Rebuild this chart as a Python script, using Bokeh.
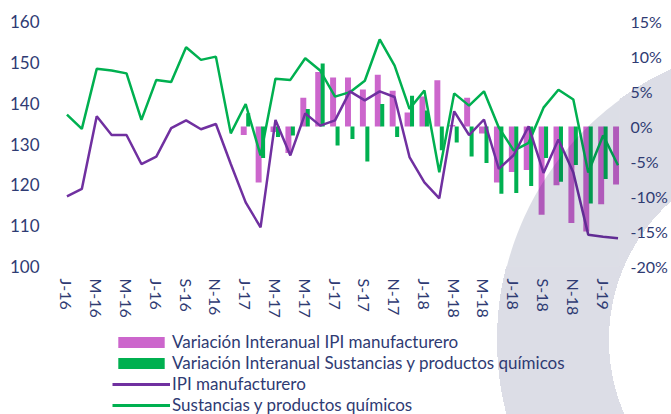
import numpy as np
from bokeh.plotting import figure
from bokeh.layouts import column
from bokeh.models import (Range1d, LinearAxis, FixedTicker, Legend, LegendItem,
                          PolyAnnotation, ColumnDataSource)
from bokeh.embed import file_html
from bokeh.resources import INLINE

# ---------------- data (Jan-2016 .. Feb-2019, monthly) ----------------
tick_labels = ["J-16", "M-16", "M-16", "J-16", "S-16", "N-16",
               "J-17", "M-17", "M-17", "J-17", "S-17", "N-17",
               "J-18", "M-18", "M-18", "J-18", "S-18", "N-18", "J-19"]

ipi_manuf = [117.2, 119.0, 136.8, 132.2, 132.2, 125.1, 126.9, 133.9, 135.8, 133.6,
             134.9, 125.1, 115.7, 109.6, 135.9, 127.2, 137.5, 134.5, 135.8, 142.9,
             140.7, 142.9, 141.5, 126.8, 120.6, 116.7, 138.0, 132.2, 136.0, 123.9,
             127.3, 134.3, 122.9, 131.1, 123.0, 107.8, 107.3, 106.9]

sust_quim = [137.2, 133.7, 148.4, 148.0, 147.3, 135.9, 145.7, 145.2, 153.7, 150.6,
             151.4, 132.6, 139.8, 127.2, 146.0, 145.7, 151.0, 148.0, 141.6, 142.7,
             145.5, 155.6, 149.2, 138.6, 143.1, 123.1, 142.4, 139.4, 142.9, 134.0,
             128.4, 130.3, 138.9, 143.3, 140.9, 123.0, 132.1, 124.8]

var_ipi = [None] * 12 + [-1.2, -8.0, -0.8, -3.8, 4.1, 7.8, 7.0, 7.0, 5.3, 7.4,
                         5.1, 2.0, 4.3, 6.6, 0.2, 4.1, -1.0, -8.0, -6.5, -6.2,
                         -12.6, -8.4, -13.8, -15.0, -11.1, -8.3]

var_quim = [None] * 12 + [1.9, -4.5, -1.5, -1.3, 2.5, 9.0, -2.7, -1.8, -5.0, 3.2,
                          -1.5, 4.4, 2.3, -3.4, -2.3, -4.3, -5.2, -9.6, -9.5, -8.5,
                          -4.5, -7.9, -5.5, -11.0, -7.5, None]

legend_labels = ["Variación Interanual IPI manufacturero",
                 "Variación Interanual Sustancias y productos químicos",
                 "IPI manufacturero",
                 "Sustancias y productos químicos"]

left_ticks = [100, 110, 120, 130, 140, 150, 160]
right_ticks = [-20, -15, -10, -5, 0, 5, 10, 15]

# ---------------- styling ----------------
NAVY = "#2F3B73"
PINK = "#CC66CC"
GREEN = "#00B050"
PURPLE = "#7030A0"
FONT = "Lato"

n = len(ipi_manuf)
x = np.arange(n, dtype=float)
nanify = lambda a: np.array([np.nan if v is None else v for v in a], dtype=float)

src = ColumnDataSource(dict(
    x=x, x_pink=x - 0.13, x_green=x + 0.17,
    ipi=np.array(ipi_manuf), quim=np.array(sust_quim),
    vipi=nanify(var_ipi), vquim=nanify(var_quim),
))

W = 671
H_MAIN, H_LEG = 320, 94
ML, MR, MT = 59, 52, 21
FRAME_BOTTOM = 266
MB = H_MAIN - FRAME_BOTTOM

p = figure(width=W, height=H_MAIN, x_range=Range1d(-0.5, 37.1), y_range=Range1d(100, 160),
           output_backend="svg", toolbar_location=None,
           min_border_left=ML, min_border_right=MR, min_border_top=MT, min_border_bottom=MB)
p.extra_y_ranges = {"pct": Range1d(-20, 15)}
p.xgrid.visible = False
p.ygrid.visible = False
p.outline_line_color = None
p.background_fill_color = "white"
p.border_fill_color = None

def style_axis(ax, standoff, size="16px"):
    ax.axis_line_color = None
    ax.major_tick_line_color = None
    ax.minor_tick_line_color = None
    ax.major_tick_out = 0
    ax.major_tick_in = 0
    ax.minor_tick_out = 0
    ax.minor_tick_in = 0
    ax.major_label_text_font = FONT
    ax.major_label_text_font_size = size
    ax.major_label_text_color = NAVY
    ax.major_label_standoff = standoff

# left axis
p.yaxis[0].ticker = FixedTicker(ticks=left_ticks)
style_axis(p.yaxis[0], 20, "17px")

# right axis
rax = LinearAxis(y_range_name="pct", ticker=FixedTicker(ticks=right_ticks),
                 major_label_overrides={t: f"{t}%" for t in right_ticks})
style_axis(rax, 11)
p.add_layout(rax, "right")

# bottom axis
xt = list(range(0, 37, 2))
p.xaxis[0].ticker = FixedTicker(ticks=xt)
p.xaxis[0].major_label_overrides = {t: lab for t, lab in zip(xt, tick_labels)}
p.xaxis[0].major_label_orientation = "vertical"
style_axis(p.xaxis[0], 12)

# bars
p.vbar(x="x_pink", top="vipi", bottom=0, width=0.40, source=src,
       y_range_name="pct", fill_color=PINK, line_color=None)
p.vbar(x="x_green", top="vquim", bottom=0, width=0.27, source=src,
       y_range_name="pct", fill_color=GREEN, line_color=None)
# lines
p.line("x", "quim", source=src, line_color=GREEN, line_width=2.5)
p.line("x", "ipi", source=src, line_color=PURPLE, line_width=2.5)

# decorative ring of the slide template
cx, cy, Ro, Ri = 795.0, 340.0, 298.0, 186.0
# translucent ring over the plot area (frame-relative screen units, y up)
ph_o = np.radians(np.linspace(250, 160, 80))
ph_i = np.radians(np.linspace(150, 235, 80))
px = np.concatenate([cx + Ro * np.cos(ph_o), cx + Ri * np.cos(ph_i)])
py = np.concatenate([cy + Ro * np.sin(ph_o), cy + Ri * np.sin(ph_i)])
ring = PolyAnnotation(xs=list(px - ML), ys=list(FRAME_BOTTOM - py),
                      xs_units="screen", ys_units="screen",
                      fill_color="#0A1450", fill_alpha=0.14, line_alpha=0)
p.add_layout(ring)

# ---------------- legend strip ----------------
lf = figure(width=W, height=H_LEG, x_range=Range1d(0, 1), y_range=Range1d(0, 1),
            output_backend="svg", toolbar_location=None,
            x_axis_type=None, y_axis_type=None,
            min_border_left=0, min_border_right=0, min_border_top=0, min_border_bottom=0)
lf.xgrid.visible = False
lf.ygrid.visible = False
lf.outline_line_color = None
lf.background_fill_color = None
lf.border_fill_color = None

# legend-only renderers (no visible marks: NaN coordinates)
swatch = ColumnDataSource(dict(x=[np.nan], y=[np.nan], top=[np.nan]))
g1 = lf.vbar(x="x", top="top", width=0.1, source=swatch, fill_color=PINK, line_color=None)
g2 = lf.vbar(x="x", top="top", width=0.1, source=swatch, fill_color=GREEN, line_color=None)
g3 = lf.line(x="x", y="y", source=swatch, line_color=PURPLE, line_width=3)
g4 = lf.line(x="x", y="y", source=swatch, line_color=GREEN, line_width=3)

legend = Legend(items=[LegendItem(label=lab, renderers=[g])
                       for lab, g in zip(legend_labels, [g1, g2, g3, g4])],
                location=(53, -1), orientation="vertical")
legend.label_text_font = FONT
legend.label_text_font_size = "17px"
legend.label_text_color = NAVY
legend.glyph_width = 58
legend.glyph_height = 14
legend.label_height = 18
legend.spacing = 0
legend.label_standoff = 2
legend.padding = 0
legend.margin = 0
legend.border_line_alpha = 0
legend.background_fill_alpha = 0
lf.add_layout(legend)

layout = column(p, lf, spacing=0)
layout.styles = {
    "background-image": (f"radial-gradient(circle 400px at {cx}px {cy}px, "
                         f"rgba(220,221,230,0) {Ri}px, #DCDDE6 {Ri}px, "
                         f"#DCDDE6 {Ro}px, rgba(220,221,230,0) {Ro}px)"),
    "background-color": "white",
}

open("out.html", "w").write(file_html(layout, INLINE))
